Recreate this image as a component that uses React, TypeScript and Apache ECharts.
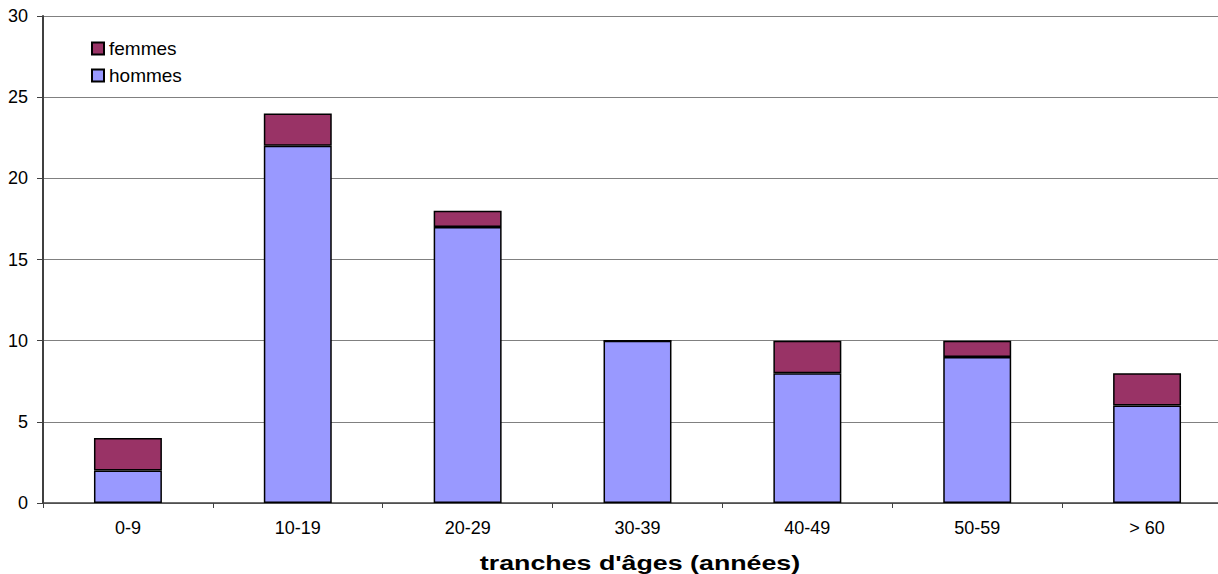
import React, { useEffect, useRef } from "react";
import * as echarts from "echarts";

const categories = ["0-9", "10-19", "20-29", "30-39", "40-49", "50-59", "> 60"];
const hommes = [2, 22, 17, 10, 8, 9, 6];
const femmes = [2, 2, 1, 0, 2, 1, 2];
const yTicks = [0, 5, 10, 15, 20, 25, 30];
const xTitle = "tranches d'âges (années)";

export default function App() {
  const ref = useRef<HTMLDivElement>(null);
  useEffect(() => {
    if (!ref.current) return;
    const chart = echarts.init(ref.current, undefined, { renderer: "svg" });
    const font = "Arial, 'Liberation Sans', Helvetica, sans-serif";
    chart.setOption({
      animation: false,
      backgroundColor: "#ffffff",
      grid: { left: 43, top: 16, right: 0, bottom: 71, containLabel: false },
      legend: {
        orient: "vertical",
        left: 86,
        top: 34,
        data: ["femmes", "hommes"],
        itemWidth: 12,
        itemHeight: 12,
        itemGap: 8,
        textStyle: { fontFamily: font, fontSize: 19, color: "#000" },
        icon: "rect",
      },
      xAxis: {
        type: "category",
        data: categories,
        axisLine: { lineStyle: { color: "#404040", width: 1.5 } },
        axisTick: { show: true, inside: false, length: 5, alignWithLabel: false, lineStyle: { color: "#404040" } },
        axisLabel: { fontFamily: font, fontSize: 18, color: "#000", margin: 16 },
        splitLine: { show: false },
      },
      yAxis: {
        type: "value",
        min: yTicks[0],
        max: yTicks[yTicks.length - 1],
        interval: 5,
        axisLine: { show: true, lineStyle: { color: "#404040", width: 2 } },
        axisTick: { show: true, inside: false, length: 6, lineStyle: { color: "#404040" } },
        axisLabel: { fontFamily: font, fontSize: 18, color: "#000", margin: 15 },
        splitLine: { show: true, lineStyle: { color: "#808080", width: 1.2 } },
      },
      graphic: [
        {
          type: "text",
          x: 640,
          y: 563,
          scaleX: 1.34,
          style: {
            text: xTitle,
            fontFamily: font,
            fontSize: 20,
            fontWeight: "bold",
            fill: "#000",
            textAlign: "center",
            textVerticalAlign: "middle",
          },
        },
      ],
      series: [
        {
          name: "hommes",
          type: "bar",
          stack: "total",
          data: hommes,
          barWidth: "40%",
          itemStyle: { color: "#9999FF", borderColor: "#000", borderWidth: 1.5 },
        },
        {
          name: "femmes",
          type: "bar",
          stack: "total",
          data: femmes,
          barWidth: "40%",
          itemStyle: { color: "#993366", borderColor: "#000", borderWidth: 1.5 },
        },
      ],
    });
    return () => chart.dispose();
  }, []);
  return (
    <div
      style={{ position: "fixed", left: 0, top: 0, width: 1218, height: 574, overflow: "hidden", background: "#fff" }}
    >
      <div ref={ref} style={{ width: 1232, height: 574 }} />
    </div>
  );
}
